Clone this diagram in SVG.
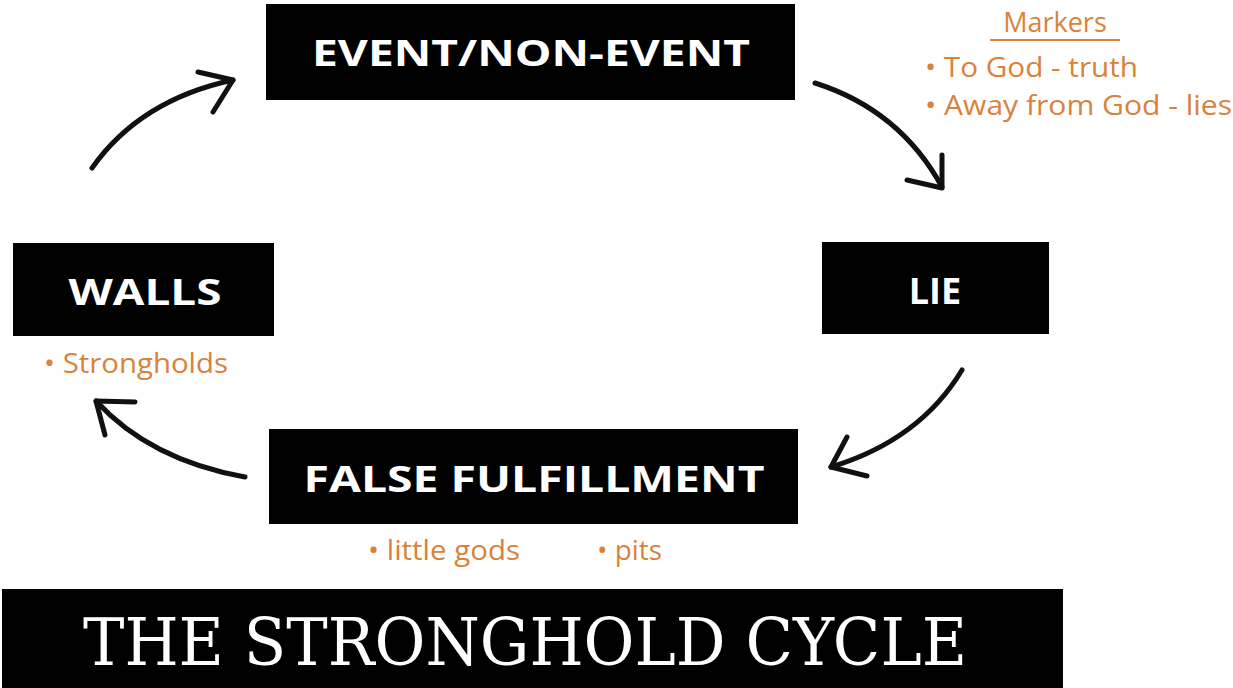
<svg xmlns="http://www.w3.org/2000/svg" width="1233" height="688" viewBox="0 0 1233 688">
<style>
.box{fill:#000}
.lbl{font-family:"Open Sans","Liberation Sans",sans-serif;font-weight:700;fill:#fff;text-anchor:middle}
.note{font-family:"Open Sans","Noto Sans","Liberation Sans",sans-serif;fill:#d9823b;font-size:27px}
.arr{fill:none;stroke:#111;stroke-width:5;stroke-linecap:round;stroke-linejoin:round}
</style>
<rect width="1233" height="688" fill="#fff"/>
<g id="event">
<rect class="box" x="266" y="4" width="529" height="96"/>
<text class="lbl" x="531" y="66" font-size="36" textLength="438" lengthAdjust="spacingAndGlyphs">EVENT/NON-EVENT</text>
</g>
<g id="lie">
<rect class="box" x="822" y="242" width="227" height="92"/>
<text class="lbl" x="935" y="304" font-size="36">LIE</text>
</g>
<g id="walls">
<rect class="box" x="13" y="243" width="261" height="93"/>
<text class="lbl" x="145" y="305" font-size="36" textLength="153" lengthAdjust="spacingAndGlyphs">WALLS</text>
</g>
<g id="false-fulfillment">
<rect class="box" x="269" y="429" width="529" height="95"/>
<text class="lbl" x="534" y="492" font-size="36" textLength="461" lengthAdjust="spacingAndGlyphs">FALSE FULFILLMENT</text>
</g>
<g id="title">
<rect class="box" x="2" y="589" width="1061" height="99"/>
<text x="525" y="665" font-family="'DejaVu Serif','Liberation Serif',serif" font-size="66" fill="#fff" text-anchor="middle" textLength="884" lengthAdjust="spacingAndGlyphs">THE STRONGHOLD CYCLE</text>
</g>
<g id="markers">
<text class="note" x="1055" y="32" text-anchor="middle" font-size="28">Markers</text>
<line x1="990" y1="40" x2="1120" y2="40" stroke="#d9823b" stroke-width="2"/>
<text class="note" x="925" y="77" textLength="213" lengthAdjust="spacingAndGlyphs">• To God - truth</text>
<text class="note" x="925" y="115" textLength="307" lengthAdjust="spacingAndGlyphs">• Away from God - lies</text>
</g>
<g id="notes">
<text class="note" x="44" y="373" textLength="184" lengthAdjust="spacingAndGlyphs">• Strongholds</text>
<text class="note" x="368" y="560" textLength="152" lengthAdjust="spacingAndGlyphs">• little gods</text>
<text class="note" x="597" y="560" textLength="65" lengthAdjust="spacingAndGlyphs">• pits</text>
</g>
<g id="connectors">
<path class="arr" d="M92,168 Q140,100 233,80"/>
<path class="arr" d="M198,72 L233,80 L213,112"/>
<path class="arr" d="M815,83 Q900,110 942,187"/>
<path class="arr" d="M942,155 L942,188 L907,180"/>
<path class="arr" d="M962,370 Q920,440 831,467"/>
<path class="arr" d="M847,437 L831,467 L867,476"/>
<path class="arr" d="M245,477 Q150,460 96,401"/>
<path class="arr" d="M135,402 L96,401 L105,435"/>
</g>
</svg>
